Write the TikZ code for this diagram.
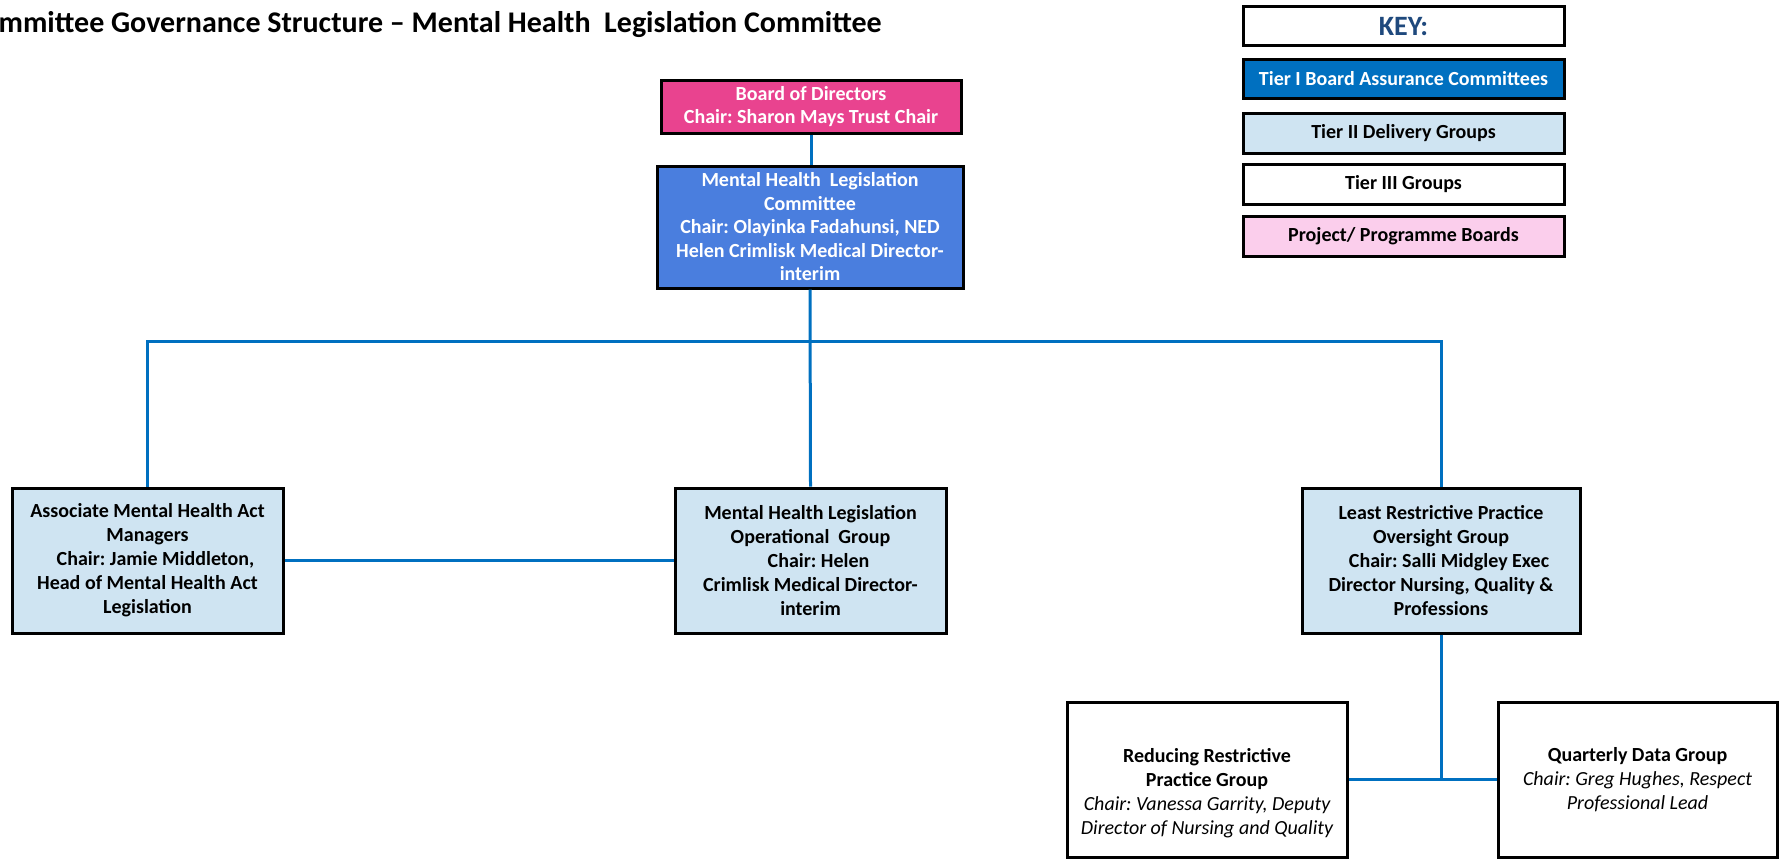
\documentclass[tikz,border=0pt]{standalone}
\usepackage{fontspec}
\setmainfont{Carlito}
\frenchspacing

\definecolor{boardpink}{RGB}{233,67,143}
\definecolor{committeeblue}{RGB}{74,126,222}
\definecolor{tieroneblue}{RGB}{0,112,192}
\definecolor{tiertwoblue}{RGB}{207,228,242}
\definecolor{projectpink}{RGB}{251,206,236}
\definecolor{keynavy}{RGB}{31,73,125}
\definecolor{wireblue}{RGB}{0,112,192}

\begin{document}
\begin{tikzpicture}[x=1pt, y=-1pt, font=\fontsize{20}{24}\selectfont\bfseries]

        % --- STYLES ---
        \tikzstyle{box} = [draw=black, line width=3pt, align=center, inner sep=0pt]
        \tikzstyle{board_box} = [box, fill=boardpink, text=white, font=\fontsize{20}{23}\selectfont\bfseries]
        \tikzstyle{tier_one} = [box, fill=committeeblue, text=white, font=\fontsize{20}{23.5}\selectfont\bfseries]
        \tikzstyle{tier_two} = [box, fill=tiertwoblue, text=black]
        \tikzstyle{tier_three} = [box, fill=white, text=black]
        \tikzstyle{key_box} = [box, fill=white, minimum width=321, minimum height=39]
        \tikzstyle{wire} = [draw=wireblue, line width=3pt]

        % --- DEFINITIONS ---
        \def\chairgap{\hspace*{16pt}} % leading space before some Chair lines

        % --- CANVAS ---
        \path[use as bounding box] (0,0) rectangle (1779,859);

        % --- TITLE ---
        \node[anchor=base east, inner sep=0pt, font=\fontsize{30}{36}\selectfont\bfseries] (title) at (882,33)
            {mmittee Governance Structure -- Mental Health~ Legislation Committee};

        % --- KEY ---
        \node[key_box, text=keynavy, font=\fontsize{28}{32}\selectfont\bfseries] (key) at (1403.5,26.5) {KEY:};
        \node[key_box, fill=tieroneblue, text=white, minimum height=38] (keyone) at (1403.5,79) {Tier I Board Assurance Committees};
        \node[key_box, fill=tiertwoblue, minimum height=40] (keytwo) at (1403.5,133) {Tier II Delivery Groups};
        \node[key_box, minimum height=40] (keythree) at (1403.5,184) {Tier III Groups};
        \node[key_box, fill=projectpink, minimum height=40] (keyproject) at (1403.5,236) {Project/ Programme Boards};

        % --- TOP OF STRUCTURE ---
        \node[board_box, minimum width=300, minimum height=53] (board) at (811,106.5)
            {Board of Directors\\Chair: Sharon Mays Trust Chair};
        \node[tier_one, minimum width=306, minimum height=122] (mhlc) at (810,227)
            {Mental Health~ Legislation\\Committee\\Chair: Olayinka Fadahunsi, NED\\Helen Crimlisk Medical Director-\\interim};

        % --- TIER II GROUPS ---
        \node[tier_two, minimum width=271, minimum height=145] (amhm) at (147.5,560.5)
            {Associate Mental Health Act\\Managers\\\chairgap Chair: Jamie Middleton,\\Head of Mental Health Act\\Legislation};
        \node[tier_two, minimum width=271, minimum height=145] (mhlog) at (810.5,560.5)
            {Mental Health Legislation\\Operational~ Group\\\chairgap Chair: Helen\\Crimlisk Medical Director-\\interim};
        \node[tier_two, minimum width=278, minimum height=145] (lrpog) at (1441,560.5)
            {Least Restrictive Practice\\Oversight Group\\\chairgap Chair: Salli Midgley Exec\\Director Nursing, Quality \&\\Professions};

        % --- TIER III GROUPS ---
        \node[tier_three, minimum width=280, minimum height=155] (rrpg) at (1207,779.5) {};
        \node[align=center, inner sep=0pt] (rrpgtext) at ([yshift=-14pt]rrpg.center)
            {Reducing Restrictive\\Practice Group\\{\mdseries\itshape Chair: Vanessa Garrity, Deputy}\\{\mdseries\itshape Director of Nursing and Quality}};
        \node[tier_three, minimum width=279, minimum height=155] (qdg) at (1637.5,779.5)
            {Quarterly Data Group\\{\mdseries\itshape Chair: Greg Hughes, Respect}\\{\mdseries\itshape Professional Lead}};

        % --- CONNECTIONS ---
        \coordinate (bus) at (810,341);
        \draw[wire] (board.south) -- (board.south |- mhlc.north);
        \draw[wire] (mhlc.south) -- (mhlog.north);
        \draw[wire] (amhm.north) |- (bus) -| (lrpog.north);
        \draw[wire] (amhm.east) -- (mhlog.west);
        \draw[wire] (lrpog.south) -- (lrpog.south |- rrpg.east);
        \draw[wire] (rrpg.east) -- (qdg.west);

\end{tikzpicture}
\end{document}
